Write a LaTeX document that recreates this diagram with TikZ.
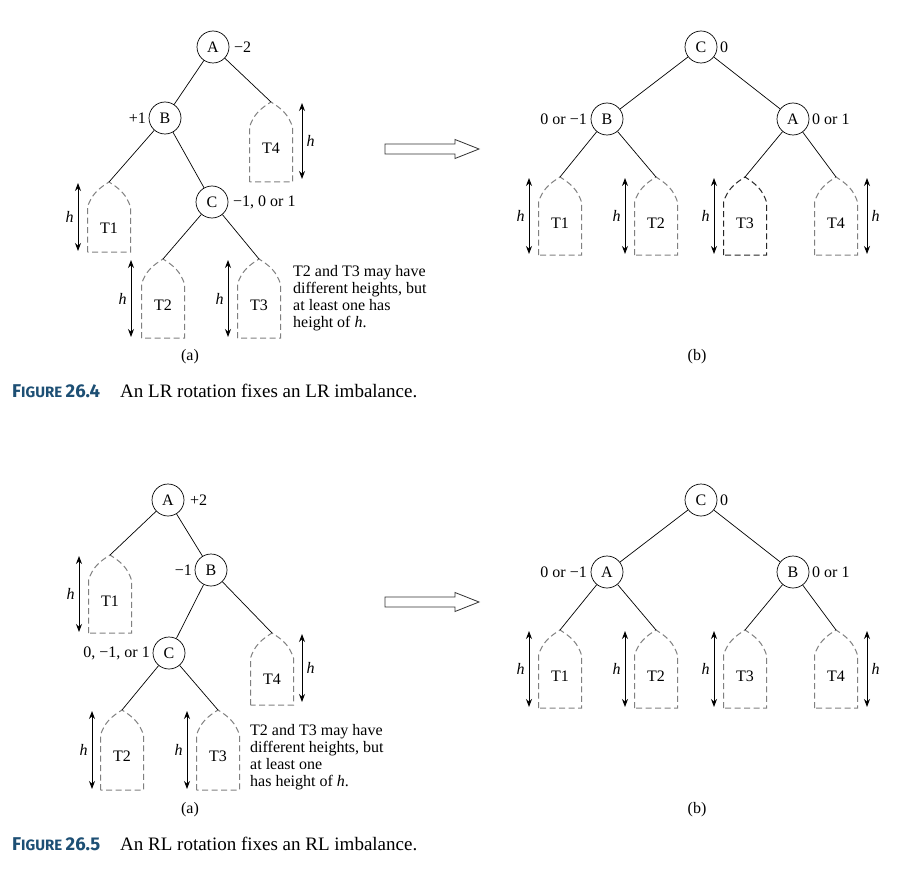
\documentclass[tikz,border=0pt]{standalone}
\usepackage{fontspec}
\setmainfont{Liberation Serif}
\newfontfamily\capfont{Fira Sans}
\usetikzlibrary{arrows.meta}
\definecolor{capblue}{HTML}{1D4F74}
\tikzset{
  tnode/.style={draw, circle, line width=0.7pt, minimum size=32pt, inner sep=0pt, font=\fontsize{16}{17}\selectfont},
  edge/.style={line width=0.7pt},
  subtree/.style={draw=black!50, dashed, dash pattern=on 6pt off 3.5pt, line width=1pt},
  subtreedark/.style={draw=black!85, dashed, dash pattern=on 6pt off 3.5pt, line width=1pt},
  harrow/.style={line width=1pt, {Stealth[length=8pt,width=6pt]}-{Stealth[length=8pt,width=6pt]}},
  lbl/.style={font=\fontsize{16}{17}\selectfont, inner sep=1pt},
  note/.style={font=\fontsize{16}{17}\selectfont, align=left, inner sep=0pt, anchor=west},
  hollow/.style={draw=black!80, line width=0.8pt, fill=white},
  captxt/.style={font=\fontsize{19}{20}\selectfont, anchor=west, inner sep=0pt},
}
% #1 name, #2 cx, #3 top, #4 bottom, #5 label, #6 style
\newcommand\subtr[6]{%
  \coordinate (#1) at (#2,#3);
  \draw[#6] (#2-21.5,#4) -- (#2-21.5,#3+25) to[out=72,in=212] (#1) to[out=-32,in=108] (#2+21.5,#3+25) -- (#2+21.5,#4) -- cycle;
  \node[lbl] (#1txt) at (#2,#3+46) {#5};
}
% #1 name, #2 x, #3 top, #4 bottom, #5 side (left/right)
\newcommand\hmark[5]{%
  \coordinate (#1a) at (#2,#3+1);
  \coordinate (#1b) at (#2,#4-1);
  \draw[harrow] (#1a) -- (#1b) node[midway, #5=3pt, lbl] (#1h) {\textit{h}};
}
\newcommand\bigarrow[2]{% #1 name, #2 y
  \draw[hollow] (385,#2-5) -- (455,#2-5) -- (455,#2-9.5) -- (479,#2) -- (455,#2+9.5) -- (455,#2+5) -- (385,#2+5) -- cycle;
}
\begin{document}
\begin{tikzpicture}[x=1pt,y=-1pt]
\useasboundingbox (0,0) rectangle (904,869);
\fill[white] (0,0) rectangle (904,869);

% ================= Figure 26.4 (a)
\node[tnode] (A1) at (213,47) {A};
\node[lbl, anchor=west] (A1l) at (233,47) {−2};
\node[tnode] (B1) at (165,118) {B};
\node[lbl, anchor=east] (B1l) at (147,118) {+1};
\node[tnode] (C1) at (212,202) {C};
\node[lbl, anchor=west] (C1l) at (232,202) {−1, 0 or 1};
\subtr{a1t1}{109}{182}{252}{T1}{subtree}
\subtr{a1t4}{271}{102}{182}{T4}{subtree}
\subtr{a1t2}{163}{259}{338}{T2}{subtree}
\subtr{a1t3}{259}{259}{338}{T3}{subtree}
\hmark{a1h1}{78}{182}{252}{left}
\hmark{a1h4}{302}{102}{180}{right}
\hmark{a1h2}{131}{259}{338}{left}
\hmark{a1h3}{228}{259}{338}{left}
\draw[edge] (A1) -- (B1);
\draw[edge] (A1) -- (a1t4);
\draw[edge] (B1) -- (a1t1);
\draw[edge] (B1) -- (C1);
\draw[edge] (C1) -- (a1t2);
\draw[edge] (C1) -- (a1t3);
\node[note] (note1) at (293,298) {T2 and T3 may have\\different heights, but\\at least one has\\height of \textit{h}.};
\node[lbl] (cap1a) at (190,357) {(a)};

\bigarrow{arr1}{149}

% ================= Figure 26.4 (b)
\node[tnode] (C2) at (701,47) {C};
\node[lbl, anchor=west] (C2l) at (719,47) {0};
\node[tnode] (B2) at (607,119) {B};
\node[lbl, anchor=east] (B2l) at (588,119) {0 or −1};
\node[tnode] (A2) at (793,119) {A};
\node[lbl, anchor=west] (A2l) at (811,119) {0 or 1};
\subtr{b1t1}{560}{177}{255}{T1}{subtree}
\subtr{b1t2}{656}{177}{255}{T2}{subtree}
\subtr{b1t3}{745}{177}{255}{T3}{subtreedark}
\subtr{b1t4}{836}{177}{255}{T4}{subtree}
\hmark{b1h1}{529}{177}{255}{left}
\hmark{b1h2}{625}{177}{255}{left}
\hmark{b1h3}{714}{177}{255}{left}
\hmark{b1h4}{867}{177}{255}{right}
\draw[edge] (C2) -- (B2);
\draw[edge] (C2) -- (A2);
\draw[edge] (B2) -- (b1t1);
\draw[edge] (B2) -- (b1t2);
\draw[edge] (A2) -- (b1t3);
\draw[edge] (A2) -- (b1t4);
\node[lbl] (cap1b) at (697,357) {(b)};

% caption 26.4
\node[anchor=west, inner sep=0pt, text=capblue] (fig1) at (12,391) {\capfont\bfseries\fontsize{18.5}{18}\selectfont F\fontsize{15}{18}\selectfont IGURE \fontsize{18.5}{18}\selectfont 26.4};
\node[captxt] (fig1t) at (120,391) {An LR rotation fixes an LR imbalance.};

% ================= Figure 26.5 (a)
\node[tnode] (A3) at (168,500) {A};
\node[lbl, anchor=west] (A3l) at (189,500) {+2};
\node[tnode] (B3) at (211,570) {B};
\node[lbl, anchor=east] (B3l) at (193,570) {−1};
\node[tnode] (C3) at (169,653) {C};
\node[lbl, anchor=east] (C3l) at (151,653) {0, −1, or 1};
\subtr{a2t1}{110}{555}{633}{T1}{subtree}
\subtr{a2t4}{272}{633}{705}{T4}{subtree}
\subtr{a2t2}{122}{710}{790}{T2}{subtree}
\subtr{a2t3}{218}{710}{790}{T3}{subtree}
\hmark{a2h1}{79}{555}{633}{left}
\hmark{a2h4}{302}{633}{703}{right}
\hmark{a2h2}{92}{710}{790}{left}
\hmark{a2h3}{187}{710}{790}{left}
\draw[edge] (A3) -- (a2t1);
\draw[edge] (A3) -- (B3);
\draw[edge] (B3) -- (C3);
\draw[edge] (B3) -- (a2t4);
\draw[edge] (C3) -- (a2t2);
\draw[edge] (C3) -- (a2t3);
\node[note] (note2) at (250,757) {T2 and T3 may have\\different heights, but\\at least one\\has height of \textit{h}.};
\node[lbl] (cap2a) at (190,810) {(a)};

\bigarrow{arr2}{602}

% ================= Figure 26.5 (b)
\node[tnode] (C4) at (701,500) {C};
\node[lbl, anchor=west] (C4l) at (719,500) {0};
\node[tnode] (A4) at (607,572) {A};
\node[lbl, anchor=east] (A4l) at (588,572) {0 or −1};
\node[tnode] (B4) at (793,572) {B};
\node[lbl, anchor=west] (B4l) at (811,572) {0 or 1};
\subtr{b2t1}{560}{630}{708}{T1}{subtree}
\subtr{b2t2}{656}{630}{708}{T2}{subtree}
\subtr{b2t3}{745}{630}{708}{T3}{subtree}
\subtr{b2t4}{836}{630}{708}{T4}{subtree}
\hmark{b2h1}{529}{630}{708}{left}
\hmark{b2h2}{625}{630}{708}{left}
\hmark{b2h3}{714}{630}{708}{left}
\hmark{b2h4}{867}{630}{708}{right}
\draw[edge] (C4) -- (A4);
\draw[edge] (C4) -- (B4);
\draw[edge] (A4) -- (b2t1);
\draw[edge] (A4) -- (b2t2);
\draw[edge] (B4) -- (b2t3);
\draw[edge] (B4) -- (b2t4);
\node[lbl] (cap2b) at (697,810) {(b)};

% caption 26.5
\node[anchor=west, inner sep=0pt, text=capblue] (fig2) at (12,844) {\capfont\bfseries\fontsize{18.5}{18}\selectfont F\fontsize{15}{18}\selectfont IGURE \fontsize{18.5}{18}\selectfont 26.5};
\node[captxt] (fig2t) at (120,844) {An RL rotation fixes an RL imbalance.};
\end{tikzpicture}
\end{document}
